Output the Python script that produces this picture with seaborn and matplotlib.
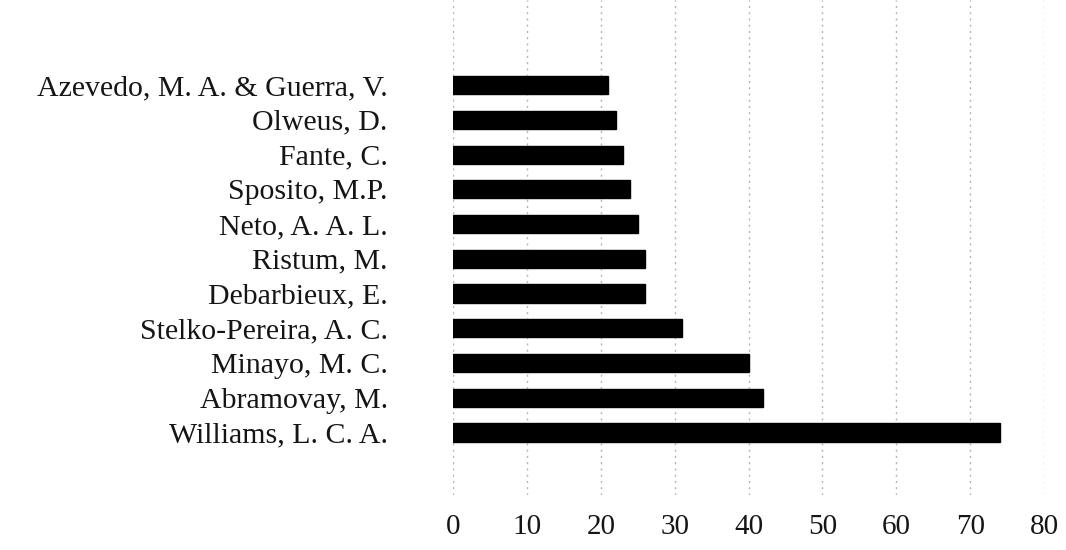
import pandas as pd
import seaborn as sns
from matplotlib import pyplot as plt

# authors and counts
authors = ['Azevedo, M. A. & Guerra, V.', 'Olweus, D.', 'Fante, C.', 'Sposito, M.P.',
           'Neto, A. A. L.', 'Ristum, M.', 'Debarbieux, E.', 'Stelko-Pereira, A. C.',
           'Minayo, M. C.', 'Abramovay, M.', 'Williams, L. C. A.']
counts = [21, 22, 23, 24, 25, 26, 26, 31, 40, 42, 74]
xticks = [0, 10, 20, 30, 40, 50, 60, 70, 80]

frame = pd.DataFrame({'Author': authors, 'Count': counts})

sns.set_style('white')
plt.rcParams['font.family'] = ['Liberation Serif', 'DejaVu Serif']

fig = plt.figure(figsize=(10.66, 5.5), dpi=100)
ax = fig.add_axes([453 / 1066, 1 - 495 / 550, (1044 - 453) / 1066, 495 / 550])

sns.barplot(data=frame, x='Count', y='Author', color='black', width=0.52, ax=ax)
for bar in ax.patches:
    bar.set_facecolor('black')
    bar.set_edgecolor('black')

ax.set_xlim(0, 80)
ax.set_ylim(len(authors) - 1 + 1.8, -2.45)
ax.set_xticks(xticks)
ax.xaxis.grid(True, linestyle=(0, (1.5, 3)), color='#b5b5b5', linewidth=1.0)
ax.set_axisbelow(True)
sns.despine(left=True, bottom=True)
ax.tick_params(axis='y', length=0, pad=47, labelsize=21.5, labelcolor='#151515')
ax.tick_params(axis='x', length=0, pad=14, labelsize=21, labelcolor='#151515')
ax.set_xlabel('')
ax.set_ylabel('')

plt.savefig('out.png', dpi=100)
